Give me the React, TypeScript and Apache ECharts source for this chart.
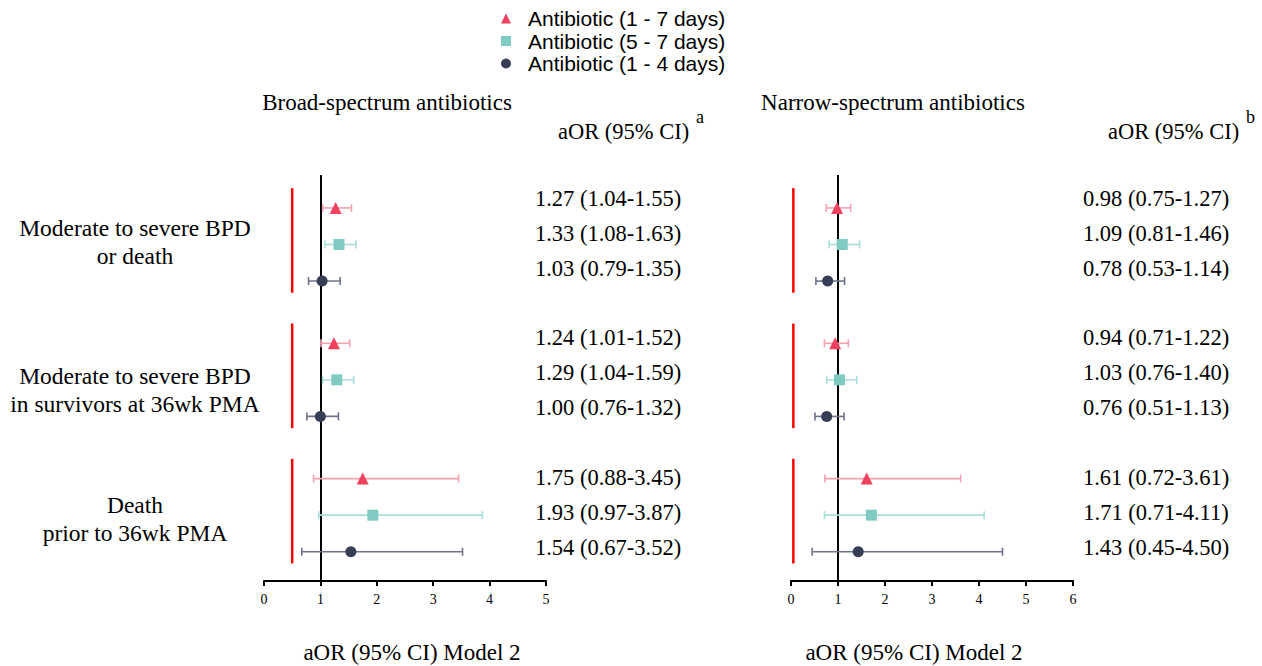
import React, { useEffect, useRef } from 'react';
import * as echarts from 'echarts';

// ---- data ----
const seriesNames = ['Antibiotic (1 - 7 days)', 'Antibiotic (5 - 7 days)', 'Antibiotic (1 - 4 days)'];
const outcomeLabels = [
  'Moderate to severe BPD\nor death',
  'Moderate to severe BPD\nin survivors at 36wk PMA',
  'Death\nprior to 36wk PMA',
];
// [aOR, lower, upper] per outcome
const broad1to7 = [[1.27, 1.04, 1.55], [1.24, 1.01, 1.52], [1.75, 0.88, 3.45]];
const broad5to7 = [[1.33, 1.08, 1.63], [1.29, 1.04, 1.59], [1.93, 0.97, 3.87]];
const broad1to4 = [[1.03, 0.79, 1.35], [1.0, 0.76, 1.32], [1.54, 0.67, 3.52]];
const narrow1to7 = [[0.98, 0.75, 1.27], [0.94, 0.71, 1.22], [1.61, 0.72, 3.61]];
const narrow5to7 = [[1.09, 0.81, 1.46], [1.03, 0.76, 1.4], [1.71, 0.71, 4.11]];
const narrow1to4 = [[0.78, 0.53, 1.14], [0.76, 0.51, 1.13], [1.43, 0.45, 4.5]];
const broadTicks = [0, 5];
const narrowTicks = [0, 6];

// ---- styles / layout ----
const markerColors = ['#F2415F', '#7FCBC4', '#363E57'];
const barColors = ['#F6A1B0', '#A9DED9', '#6D748A'];
const symbols = ['triangle', 'rect', 'circle'];
const symbolSizes = [12, 11, 11];
const SERIF = '"Liberation Serif", "Times New Roman", serif';
const SANS = '"Liberation Sans", Arial, sans-serif';
const GROUP_STEP = 3.7;
const rowPos = (g: number, r: number) => g * GROUP_STEP + r;
// value-text table rows sit on their own slightly different grid
const textPos = (g: number, r: number) => g * 3.82 + r * 0.96 - 0.27;
const labelY = [242, 390, 519];
const fmt = (v: number) => v.toFixed(2);

function buildPanel(
  gridIndex: number,
  sets: number[][][],
  textX: number,
  bracketX: number,
  withRef: boolean
) {
  const series: any[] = [];
  sets.forEach((set, s) => {
    const rows = set.map((d, g) => [d[0], d[1], d[2], rowPos(g, s), textPos(g, s)]);
    // error bars
    series.push({
      type: 'custom',
      xAxisIndex: gridIndex,
      yAxisIndex: gridIndex,
      silent: true,
      z: 2,
      encode: { x: [1, 2], y: 3 },
      data: rows,
      renderItem: (params: any, api: any) => {
        const y = api.coord([0, api.value(3)])[1];
        const x1 = api.coord([api.value(1), 0])[0];
        const x2 = api.coord([api.value(2), 0])[0];
        const st = { stroke: barColors[s], lineWidth: 1.6 };
        return {
          type: 'group',
          children: [
            { type: 'line', shape: { x1, y1: y, x2, y2: y }, style: st },
            { type: 'line', shape: { x1, y1: y - 4, x2: x1, y2: y + 4 }, style: st },
            { type: 'line', shape: { x1: x2, y1: y - 4, x2, y2: y + 4 }, style: st },
          ],
        };
      },
    });
    // markers
    const sc: any = {
      type: 'scatter',
      name: seriesNames[s],
      xAxisIndex: gridIndex,
      yAxisIndex: gridIndex,
      symbol: symbols[s],
      symbolSize: symbolSizes[s],
      itemStyle: { color: markerColors[s], opacity: 1 },
      z: 4,
      data: rows.map((r) => [r[0], r[3]]),
    };
    if (withRef && s === 0) {
      sc.markLine = {
        silent: true,
        symbol: 'none',
        label: { show: false },
        lineStyle: { color: '#000', width: 2, type: 'solid' },
        data: [{ xAxis: 1 }],
        z: 1,
      };
    }
    series.push(sc);
    // value text
    series.push({
      type: 'custom',
      xAxisIndex: gridIndex,
      yAxisIndex: gridIndex,
      silent: true,
      encode: { x: 0, y: 4 },
      data: rows,
      renderItem: (params: any, api: any) => {
        const y = api.coord([0, api.value(4)])[1];
        return {
          type: 'text',
          x: textX,
          y,
          style: {
            text: `${fmt(api.value(0))} (${fmt(api.value(1))}-${fmt(api.value(2))})`,
            fill: '#000',
            font: `22.5px ${SERIF}`,
            align: 'center',
            verticalAlign: 'middle',
          },
        };
      },
    });
  });
  // red group brackets
  series.push({
    type: 'custom',
    xAxisIndex: gridIndex,
    yAxisIndex: gridIndex,
    silent: true,
    z: 3,
    data: outcomeLabels.map((_, g) => [bracketX, rowPos(g, -0.54), rowPos(g, 2.32)]),
    encode: { x: 0, y: [1, 2] },
    renderItem: (params: any, api: any) => {
      const p1 = api.coord([api.value(0), api.value(1)]);
      const p2 = api.coord([api.value(0), api.value(2)]);
      return {
        type: 'line',
        shape: { x1: p1[0], y1: p1[1], x2: p2[0], y2: p2[1] },
        style: { stroke: '#FF0000', lineWidth: 2.5 },
      };
    },
  });
  return series;
}

export default function App() {
  const ref = useRef<HTMLDivElement>(null);
  useEffect(() => {
    document.body.style.margin = '0';
    if (!ref.current) return;
    const chart = echarts.init(ref.current, undefined, { renderer: 'svg' });

    const xAxisBase = (ticks: number[], gridIndex: number) => ({
      type: 'value',
      gridIndex,
      min: ticks[0],
      max: ticks[1],
      interval: 1,
      axisLine: { show: true, onZero: false, lineStyle: { color: '#000', width: 2 } },
      axisTick: { show: true, length: 5, lineStyle: { color: '#000', width: 2 } },
      axisLabel: { color: '#000', fontFamily: SERIF, fontSize: 14, margin: 11 },
      splitLine: { show: false },
    });
    const yAxisBase = (gridIndex: number) => ({
      type: 'value',
      gridIndex,
      min: -0.9,
      max: 10.2,
      inverse: true,
      show: false,
    });

    const t = (text: string, x: number, y: number, size = 23, align = 'center', family = SERIF, lineHeight?: number) => ({
      type: 'text',
      x,
      y,
      style: { text, fill: '#000', font: `${size}px ${family}`, align, verticalAlign: 'middle', lineHeight },
    });

    chart.setOption({
      animation: false,
      backgroundColor: '#fff',
      legend: {
        orient: 'vertical',
        left: 496,
        top: 3,
        itemWidth: 10,
        itemHeight: 10,
        itemGap: 1.5,
        selectedMode: false,
        textStyle: { fontFamily: SANS, fontSize: 21, color: '#000', lineHeight: 21, padding: [0, 0, 0, 12] },
        data: seriesNames.map((n, i) => ({ name: n, icon: symbols[i] })),
      },
      grid: [
        { left: 264, width: 282, top: 175, height: 406 },
        { left: 791, width: 282, top: 175, height: 406 },
      ],
      xAxis: [xAxisBase(broadTicks, 0), xAxisBase(narrowTicks, 1)],
      yAxis: [yAxisBase(0), yAxisBase(1)],
      graphic: [
        t('Broad-spectrum antibiotics', 387, 102),
        t('Narrow-spectrum antibiotics', 893, 102),
        t('aOR (95% CI)', 558, 131, 22.5, 'left'),
        t('a', 696, 117, 18, 'left'),
        t('aOR (95% CI)', 1108, 131, 22.5, 'left'),
        t('b', 1246, 117, 18, 'left'),
        t('aOR (95% CI) Model 2', 412, 652),
        t('aOR (95% CI) Model 2', 914, 652),
        ...outcomeLabels.map((lab, g) => t(lab, 135, labelY[g], 23.5, 'center', SERIF, 28)),
      ],
      series: [
        ...buildPanel(0, [broad1to7, broad5to7, broad1to4], 608, 0.5, true),
        ...buildPanel(1, [narrow1to7, narrow5to7, narrow1to4], 1156, 0.05, true),
      ],
    });
    return () => chart.dispose();
  }, []);
  return <div ref={ref} style={{ width: 1262, height: 666 }} />;
}
